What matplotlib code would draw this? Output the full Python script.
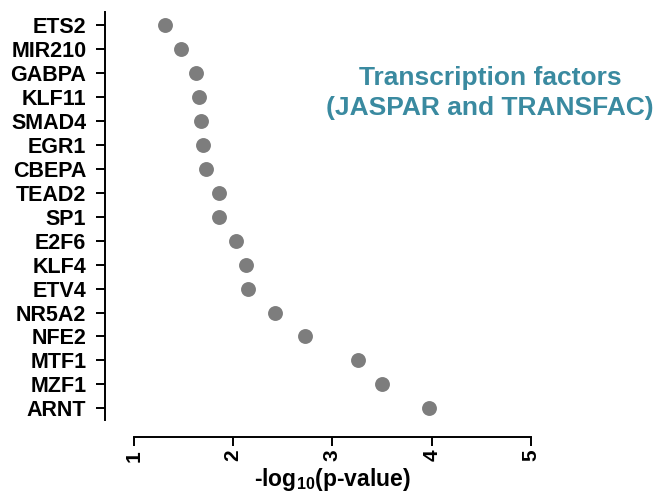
import matplotlib
matplotlib.use("Agg")
import matplotlib.pyplot as plt

plt.rcParams['font.family'] = ['Liberation Sans', 'DejaVu Sans']
plt.rcParams['mathtext.fontset'] = 'custom'
plt.rcParams['mathtext.rm'] = 'Liberation Sans:bold'
plt.rcParams['mathtext.bf'] = 'Liberation Sans:bold'
plt.rcParams['mathtext.default'] = 'bf'

# transcription factors, top to bottom
factors = ["ETS2", "MIR210", "GABPA", "KLF11", "SMAD4", "EGR1", "CBEPA", "TEAD2",
           "SP1", "E2F6", "KLF4", "ETV4", "NR5A2", "NFE2", "MTF1", "MZF1", "ARNT"]
neg_log_p = [1.31, 1.48, 1.63, 1.66, 1.68, 1.70, 1.73, 1.86,
             1.86, 2.03, 2.13, 2.15, 2.42, 2.72, 3.26, 3.50, 3.97]
x_ticks = [1, 2, 3, 4, 5]

fig = plt.figure(figsize=(6.61, 4.94), dpi=100)
ax = fig.add_axes([0.1589, 0.1498, 0.6884, 0.8259])

ypos = [len(factors) - 1 - i for i in range(len(factors))]
ax.scatter(neg_log_p, ypos, s=115, color="#7d7d7d", zorder=3, linewidths=0)

# spines first: set_position resets the tick styling
for s in ["top", "right"]:
    ax.spines[s].set_visible(False)
ax.spines["left"].set_linewidth(1.4)
ax.spines["bottom"].set_linewidth(1.4)
ax.spines["bottom"].set_position(("outward", 12))
ax.spines["bottom"].set_bounds(1, 5)

ax.set_xlim(0.711, 5.293)
ax.set_ylim(-0.49, 16.56)
ax.set_yticks(ypos)
ax.set_yticklabels(factors, fontsize=15.5, fontweight="bold")
ax.set_xticks(x_ticks)
ax.set_xticklabels([str(t) for t in x_ticks], fontsize=15, fontweight="bold", rotation=90)
ax.tick_params(axis="y", length=6.5, width=1.4, pad=7)
ax.tick_params(axis="x", length=6.5, width=1.4, pad=3)

ax.set_xlabel("-log$_{10}$(p-value)", fontsize=16.5, fontweight="bold", labelpad=3)

fig.text(490 / 661, 1 - 115 / 494, "Transcription factors\n(JASPAR and TRANSFAC)",
         ha="center", va="baseline", fontsize=19, fontweight="bold",
         color="#3a8aa0", linespacing=1.3)

fig.savefig("out.png", dpi=100)
